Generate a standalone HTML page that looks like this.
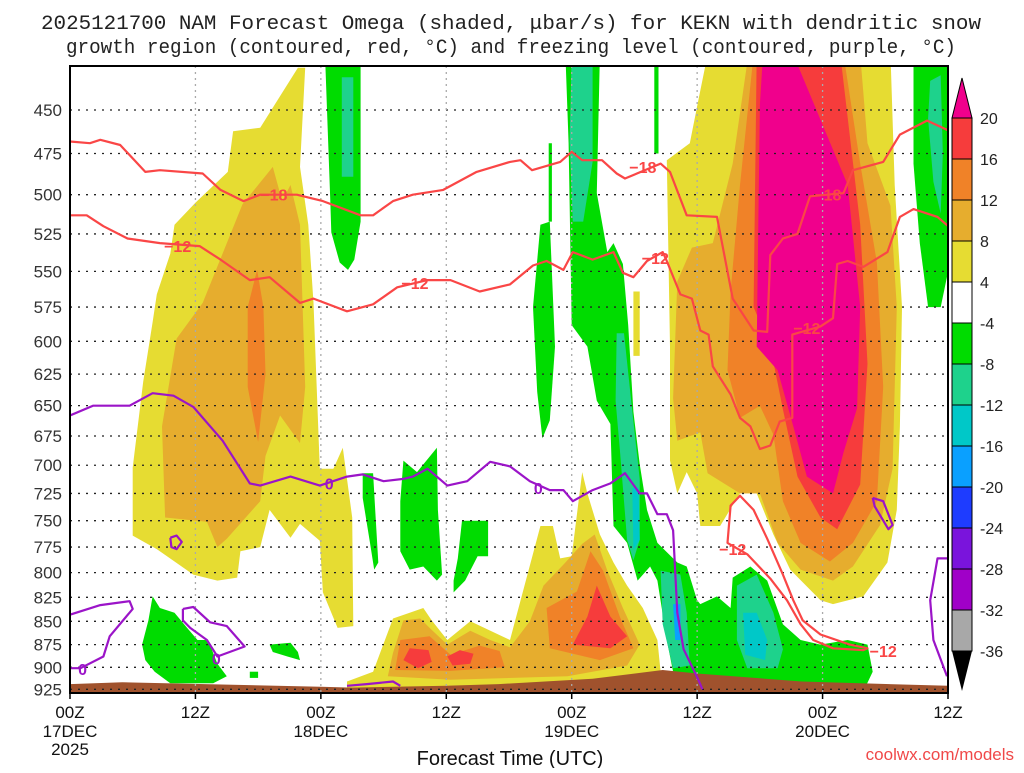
<!DOCTYPE html>
<html><head><meta charset="utf-8"><title>NAM Omega KEKN</title>
<style>
html,body{margin:0;padding:0;background:#fff;}
body{width:1024px;height:768px;overflow:hidden;position:relative;font-family:"Liberation Sans",sans-serif;}
svg text{font-family:"Liberation Sans",sans-serif;}
</style></head>
<body>
<svg id="chart" width="1024" height="768" viewBox="0 0 1024 768" xmlns="http://www.w3.org/2000/svg">
  <defs><clipPath id="plotclip"><rect x="70" y="66" width="878" height="627"/></clipPath></defs>
  <g fill="#222" font-size="20" text-anchor="middle" style="font-family:'Liberation Mono',monospace">
    <text x="511" y="29" textLength="940" lengthAdjust="spacingAndGlyphs" style="font-family:'Liberation Mono',monospace">2025121700 NAM Forecast Omega (shaded, μbar/s) for KEKN with dendritic snow</text>
    <text x="511" y="53" textLength="890" lengthAdjust="spacingAndGlyphs" style="font-family:'Liberation Mono',monospace">growth region (contoured, red, °C) and freezing level (contoured, purple, °C)</text>
  </g>
  <g id="fills" clip-path="url(#plotclip)"></g>
  <g id="grid"></g>
  <g id="contours" clip-path="url(#plotclip)"></g>
  <g id="axes"></g>
  <g id="cbar"></g>
  <text x="510" y="765" font-size="20" text-anchor="middle" fill="#111">Forecast Time (UTC)</text>
  <text x="1014" y="760" font-size="17" text-anchor="end" fill="#f04848">coolwx.com/models</text>
</svg>
<script>
// ---- axis ticks ----
const pressureTicks=[450,475,500,525,550,575,600,625,650,675,700,725,750,775,800,825,850,875,900,925];
const timeTicks=[0,12,24,36,48,60,72,84];
const timeLabels=["00Z","12Z","00Z","12Z","00Z","12Z","00Z","12Z"];
const dateLabels=["17DEC","","18DEC","","19DEC","","20DEC",""];
// ---- colorbar ----
const cbarLevels=["20","16","12","8","4","-4","-8","-12","-16","-20","-24","-28","-32","-36"];
const cbarColors=["#f63c3c","#f08228","#e6ad2e","#e6dc32","#ffffff","#00dc00","#1ed28c","#00c8c8","#0aa0ff","#1e3cff","#7a14dc","#a000c8","#a8a8a8"];
// ---- shading polygons [hour, hPa] ----
const yellowLeft=[[21.8,427],[18.2,460],[15.6,462],[15.1,486],[12.0,505],[10.0,519],[9.6,538],[8.3,566],[7.9,586],[7.0,631],[6.0,702],[6.0,764],[8.3,777],[11.8,802],[14.1,808],[16.0,805],[16.3,779],[18.2,775],[19.1,740],[21.1,766],[22.0,753],[23.9,769],[24.2,820],[25.6,857],[27.1,855],[27.0,747],[26.1,685],[25.2,703],[23.9,703],[23.3,572],[22.8,519],[22.0,483],[22.5,427]];
const orangeLeft=[[19.4,483],[16.5,506],[12.7,572],[10.2,598],[8.8,667],[9.1,747],[13.1,751],[14.1,775],[15.0,767],[18.2,732],[18.7,692],[20.1,658],[22.0,681],[22.5,635],[22.0,519],[21.1,494],[20.3,504]];
const darkOrangeLeft=[[17.9,549],[17.0,575],[17.0,635],[18.0,680],[18.7,625],[18.5,575]];
const yellowMid=[[26.5,916],[29.0,905],[30.9,847],[32.5,841],[33.8,836],[34.6,849],[36.1,870],[38.3,850],[42.1,870],[45.0,755],[46.2,755],[46.9,786],[48.0,784],[49.0,706],[49.5,725],[50.7,763],[52.0,790],[53.3,813],[54.8,836],[56.2,870],[56.5,905],[56.5,925],[26.5,925]];
const orangeMid=[[30.4,910],[30.9,884],[31.9,849],[33.5,847],[34.4,857],[36.1,875],[38.3,860],[40.2,870],[42.1,878],[44.0,850],[45.3,813],[47.4,790],[49.0,772],[50.2,763],[51.4,798],[52.9,836],[54.5,875],[53.3,898],[47.6,910],[36.4,914]];
const darkOrangeMidA=[[31.1,903],[31.6,870],[34.4,866],[36.4,886],[39.2,876],[41.1,882],[41.6,900],[36.4,904]];
const darkOrangeMidB=[[45.6,836],[48.5,819],[49.8,779],[51.0,798],[52.6,845],[53.9,879],[50.7,892],[45.9,879]];
const redMidA=[[31.9,892],[32.5,879],[34.3,881],[34.6,894],[33.3,901]];
const redMidB=[[36.1,888],[37.3,881],[38.6,885],[38.3,896],[36.6,898]];
const redMidC=[[48.1,875],[49.5,845],[50.4,813],[51.7,845],[53.3,866],[51.7,879]];
const yellowRight=[[61.0,420],[60.1,445],[59.3,469],[57.1,479],[57.4,604],[57.4,696],[58.1,725],[59.0,706],[60.0,725],[60.3,755],[62.2,755],[64.1,725],[65.7,725],[67.3,763],[68.9,797],[71.8,828],[73.0,832],[75.9,824],[78.2,790],[79.1,740],[79.4,667],[79.6,575],[78.9,494],[78.5,420]];
const orangeRight=[[64.9,420],[63.4,481],[61.5,531],[59.5,534],[58.1,557],[57.7,644],[58.1,679],[60.3,672],[61.0,707],[64.1,725],[66.0,725],[67.7,771],[69.9,797],[73.0,808],[74.9,794],[77.5,754],[78.7,703],[79.1,575],[78.5,507],[76.3,469],[75.6,420]];
const darkOrangeRight=[[65.4,420],[64.1,494],[63.2,564],[62.9,622],[64.1,660],[66.0,650],[67.3,674],[68.2,732],[69.9,771],[72.7,789],[74.9,771],[77.2,732],[77.8,635],[77.2,544],[75.6,481],[74.0,420]];
const redRight=[[65.7,420],[65.4,575],[67.0,604],[68.2,653],[69.6,710],[71.8,747],[73.4,758],[75.6,717],[76.3,617],[75.6,519],[73.7,420]];
const magentaRight=[[66.3,420],[66.0,447],[65.7,604],[67.7,622],[69.2,667],[70.5,710],[73.0,725],[74.0,689],[75.3,652],[75.6,575],[74.4,494],[69.2,420]];
const yellowStripe=[[53.9,564],[54.5,564],[54.5,611],[53.9,611]];
const greenTop=[[24.4,420],[27.8,420],[27.8,517],[27.2,542],[26.6,549],[25.8,544],[25.0,524],[24.9,504]];
const greenMidA=[[28.0,707],[29.0,707],[29.2,740],[29.5,790],[29.1,797],[28.7,771],[28.0,729]];
const greenMidB=[[31.9,696],[33.2,706],[35.1,685],[35.2,740],[35.6,802],[35.1,808],[33.8,794],[32.5,797],[31.6,779],[31.6,732]];
const greenMidC=[[37.5,750],[40.0,750],[40.0,784],[39.0,784],[37.8,808],[36.7,820],[36.7,808],[37.1,786]];
const greenLowLeft=[[7.9,824],[8.6,836],[10.0,841],[11.2,857],[12.2,870],[13.2,870],[14.1,896],[15.0,910],[13.7,918],[9.6,918],[8.1,905],[7.2,892],[6.9,875],[7.5,849]];
const greenSmallA=[[19.1,875],[21.1,873],[21.8,883],[22.0,892],[20.8,888],[19.4,883]];
const greenSmallB=[[17.2,905],[18.0,905],[18.0,912],[17.2,912]];
const greenBand=[[47.4,420],[47.7,469],[48.0,588],[49.5,604],[50.4,646],[51.7,665],[52.0,755],[53.3,771],[54.3,808],[55.5,794],[56.2,808],[57.1,870],[57.7,905],[58.7,925],[76.0,925],[76.8,905],[76.3,875],[74.4,870],[71.8,875],[69.9,870],[68.2,853],[66.7,808],[65.1,794],[63.4,805],[63.2,836],[61.9,824],[60.3,832],[60.0,828],[59.0,794],[58.1,790],[56.2,771],[55.2,740],[54.5,699],[53.9,655],[53.4,588],[52.9,545],[52.0,531],[51.4,537],[50.4,499],[50.7,420]];
const greenThin=[[45.0,519],[45.9,517],[46.4,604],[45.9,662],[45.2,677],[44.7,639],[44.3,575]];
const greenThinLine=[[45.8,469],[46.1,469],[46.1,517],[45.8,517]];
const greenThinTop=[[55.9,420],[56.3,420],[56.3,475],[55.9,475]];
const greenRight=[[80.7,420],[85,420],[85,517],[83.3,575],[82.1,575],[81.3,531],[80.7,481]];
const tealTop=[[26.0,432],[27.1,432],[27.1,489],[26.0,489]];
const tealBandTop=[[48.0,420],[50.0,420],[50.0,480],[49.1,517],[48.1,517],[47.8,468]];
const tealBandMid=[[52.3,594],[53.0,594],[53.9,663],[54.5,712],[54.5,768],[53.9,788],[53.3,768],[52.6,686],[52.2,646]];
const tealBandLow=[[56.5,798],[58.4,802],[59.0,841],[59.3,898],[57.7,901],[56.7,853]];
const tealLowRight=[[63.8,813],[65.7,802],[67.3,841],[68.2,880],[67.7,901],[64.8,901],[63.8,870]];
const tealRight=[[82.3,434],[83.3,431],[83.5,475],[83.3,512],[82.6,492],[82.1,455]];
const cyanBandMid=[[53.8,720],[54.4,720],[54.5,768],[53.9,778]];
const cyanLowRight=[[64.4,841],[65.7,841],[66.7,870],[66.5,892],[64.6,886]];
const blueBandLow=[[57.7,832],[58.4,832],[58.4,870],[57.9,870]];
// ---- terrain (surface pressure by hour) ----
const terrainHours=[0,5,24,27,36,41,50,56.7,60,70,84];
const terrainPres=[919,917,922,923,921,919,913,903,907,916,921];
// ---- contours [hour, hPa] ----
const minus18=[[0,468],[1.9,469],[2.9,467],[4.8,470],[7.2,486],[8.6,485],[12.7,487],[14.4,497],[16.6,504],[18.2,500],[21.7,500],[24.2,504],[27.8,513],[29.0,513],[30.9,504],[32.8,500],[35.7,497],[38.9,486],[42.1,480],[43.1,479],[44.2,485],[46.9,480],[48.0,474],[49.0,479],[50.9,479],[52.3,487],[53.1,490],[56.5,481],[57.4,486],[59.0,513],[61.9,514],[63.4,569],[65.4,592],[66.7,593],[67.0,539],[68.2,528],[69.6,525],[70.8,501],[74.0,499],[74.9,485],[77.8,480],[79.4,464],[82.0,456],[84.2,462]];
const minus12Upper=[[0,513],[1.6,513],[3.2,520],[5.5,528],[8.6,531],[12.4,533],[14.4,542],[17.2,556],[19.1,554],[22.0,572],[23.3,569],[26.5,578],[29.0,573],[31.3,561],[34.2,556],[36.4,556],[39.2,564],[42.1,559],[44.3,546],[45.6,543],[47.2,549],[48.1,537],[50.0,542],[52.0,537],[52.9,551],[53.9,554],[55.2,543],[56.7,537],[57.1,543],[58.4,566],[59.5,569],[60.3,592],[61.1,595],[61.5,619],[63.2,641],[64.1,660],[65.1,667],[66.0,686],[67.0,683],[67.9,663],[69.1,660],[69.1,595],[71.8,589],[73.0,583],[73.4,545],[74.4,543],[75.9,547],[78.2,537],[79.4,514],[80.7,509],[83.0,514],[84.2,521]];
const minus12Lower=[[62.9,771],[63.2,736],[64.1,727],[65.4,740],[66.7,767],[68.2,802],[69.2,828],[70.1,849],[71.8,864],[74.6,875],[76.3,879],[75.9,881],[73.0,879],[71.1,870],[69.9,853],[68.6,828],[67.0,806],[64.8,782]];
const zeroMain=[[0,658],[2.2,650],[5.7,650],[7.9,640],[9.9,642],[11.8,651],[14.6,679],[17.2,716],[18.2,718],[21.1,710],[23.9,718],[26.5,710],[28.0,708],[30.0,714],[31.9,712],[32.8,710],[34.2,703],[36.1,718],[38.0,714],[40.2,697],[42.1,701],[44.0,714],[45.9,722],[47.2,722],[48.1,732],[50.0,722],[51.7,716],[53.1,707],[54.5,725],[55.2,725],[56.2,744],[57.1,744],[57.7,759],[58.1,841],[58.7,880],[60.0,911],[60.5,925]];
const zeroLowLeft=[[0,843],[2.9,833],[5.7,829],[6.0,837],[3.8,866],[3.2,888],[1.0,901],[0,901]];
const zeroLoop12Z=[[10.8,837],[11.8,835],[13.4,851],[15.0,855],[16.7,877],[14.1,888],[13.1,870],[11.5,857],[10.8,849],[10.8,837]];
const zeroSmallLoop=[[9.6,766],[10.2,764],[10.7,770],[10.2,777],[9.7,775],[9.6,766]];
const zeroBottom=[[26.5,921],[28.4,919],[30.9,916],[31.6,921]];
const zeroRight=[[84.2,786],[83.0,786],[82.3,828],[82.6,870],[83.9,910]];
const zeroRightLoop=[[76.8,729],[77.8,732],[78.7,754],[78.3,758],[77.5,745],[77.0,737],[76.8,729]];
// ---- contour labels [hour, hPa, text] ----
const contourLabels=[[19.5,500,"-18"],[54.8,483,"-18"],[72.5,500,"-18"],[10.3,533,"-12"],[33.0,558,"-12"],[56.0,541,"-12"],[70.5,590,"-12"],[63.4,777,"-12"],[77.8,882,"-12"]];
const zeroLabels=[[24.8,716],[44.8,720],[14.0,890],[1.2,902]];

const NS="http://www.w3.org/2000/svg";
const X=h=>70+h*(878/84);
const Y=p=>110+804*Math.log(p/450);
function mk(tag,attrs,parent){const e=document.createElementNS(NS,tag);for(const k in attrs)e.setAttribute(k,attrs[k]);parent.appendChild(e);return e;}
const fills=document.getElementById('fills');
function poly(data,color,name){
  const e=mk('polygon',{points:data.map(d=>X(d[0]).toFixed(1)+','+Y(d[1]).toFixed(1)).join(' '),fill:color},fills);
  
  
}
poly(yellowLeft,"#e6dc32","omega-4-8-left");
poly(orangeLeft,"#e6ad2e","omega-8-12-left");
poly(darkOrangeLeft,"#f08228","omega-12-16-left");
poly(yellowMid,"#e6dc32","omega-4-8-mid");
poly(orangeMid,"#e6ad2e","omega-8-12-mid");
poly(darkOrangeMidA,"#f08228","omega-12-16-mid-a");
poly(darkOrangeMidB,"#f08228","omega-12-16-mid-b");
poly(redMidA,"#f63c3c","omega-16-20-mid-a");
poly(redMidB,"#f63c3c","omega-16-20-mid-b");
poly(redMidC,"#f63c3c","omega-16-20-mid-c");
poly(yellowRight,"#e6dc32","omega-4-8-right");
poly(orangeRight,"#e6ad2e","omega-8-12-right");
poly(darkOrangeRight,"#f08228","omega-12-16-right");
poly(redRight,"#f63c3c","omega-16-20-right");
poly(magentaRight,"#f0008c","omega-over-20-right");
poly(yellowStripe,"#e6dc32","omega-4-8-stripe");
poly(greenTop,"#00dc00","omega-neg4-top");
poly(greenMidA,"#00dc00","omega-neg4-mid-a");
poly(greenMidB,"#00dc00","omega-neg4-mid-b");
poly(greenMidC,"#00dc00","omega-neg4-mid-c");
poly(greenLowLeft,"#00dc00","omega-neg4-low-left");
poly(greenSmallA,"#00dc00","omega-neg4-small-a");
poly(greenSmallB,"#00dc00","omega-neg4-small-b");
poly(greenBand,"#00dc00","omega-neg4-band");
poly(greenThin,"#00dc00","omega-neg4-thin");
poly(greenThinLine,"#00dc00","omega-neg4-thin-line");
poly(greenThinTop,"#00dc00","omega-neg4-thin-top");
poly(greenRight,"#00dc00","omega-neg4-right");
poly(tealTop,"#1ed28c","omega-neg8-top");
poly(tealBandTop,"#1ed28c","omega-neg8-band-top");
poly(tealBandMid,"#1ed28c","omega-neg8-band-mid");
poly(tealBandLow,"#1ed28c","omega-neg8-band-low");
poly(tealLowRight,"#1ed28c","omega-neg8-low-right");
poly(tealRight,"#1ed28c","omega-neg8-right");
poly(cyanBandMid,"#00c8c8","omega-neg12-band-mid");
poly(cyanLowRight,"#00c8c8","omega-neg12-low-right");
poly(blueBandLow,"#0aa0ff","omega-neg16-band-low");
// terrain
{
  const pts=terrainHours.map((h,i)=>X(h).toFixed(1)+','+Y(terrainPres[i]).toFixed(1));
  pts.push(X(84)+','+700,X(0)+','+700);
  const t=mk('polygon',{points:pts.join(' '),fill:"#a0522d"},fills);
  
  
}
// grid
const grid=document.getElementById('grid');
pressureTicks.forEach(p=>{
  const l=mk('line',{x1:70,x2:948,y1:Y(p),y2:Y(p),stroke:"#222","stroke-width":1.3,"stroke-dasharray":"2 6"},grid);
  
  
});
timeTicks.slice(1,-1).forEach(h=>{
  const l=mk('line',{x1:X(h),x2:X(h),y1:66,y2:693,stroke:"#aaa","stroke-width":1.3,"stroke-dasharray":"2 4"},grid);
  
  
});
// contours
const cg=document.getElementById('contours');
function line(data,color,name,closed){
  const e=mk(closed?'polygon':'polyline',{points:data.map(d=>X(d[0]).toFixed(1)+','+Y(d[1]).toFixed(1)).join(' '),fill:"none",stroke:color,"stroke-width":2.2,"stroke-linejoin":"round"},cg);
  
  
}
const RED="#fa4646", PUR="#9b14c8";
line(minus18,RED,"contour-minus18");
line(minus12Upper,RED,"contour-minus12-upper");
line(minus12Lower,RED,"contour-minus12-lower",true);
line(zeroMain,PUR,"freezing-level-main");
line(zeroLowLeft,PUR,"freezing-level-low-left");
line(zeroLoop12Z,PUR,"freezing-level-loop");
line(zeroSmallLoop,PUR,"freezing-level-small-loop");
line(zeroBottom,PUR,"freezing-level-bottom");
line(zeroRight,PUR,"freezing-level-right");
line(zeroRightLoop,PUR,"freezing-level-right-loop");
contourLabels.forEach(c=>{
  const t=mk('text',{x:X(c[0]),y:Y(c[1])+6,"font-size":16,"font-weight":"bold","text-anchor":"middle",fill:RED},cg);
  t.textContent=c[2].replace('-','\u2212');
  
  
});
zeroLabels.forEach(c=>{
  const t=mk('text',{x:X(c[0]),y:Y(c[1])+6,"font-size":16,"font-weight":"bold","text-anchor":"middle",fill:PUR},cg);
  t.textContent="0";
  
  
});
// axes
const ax=document.getElementById('axes');
{
  const b=mk('rect',{x:70,y:66,width:878,height:627,fill:"none",stroke:"#000","stroke-width":2},ax);
  
  
}
pressureTicks.forEach(p=>{
  const t=mk('text',{x:62,y:Y(p)+6,"font-size":17,"text-anchor":"end",fill:"#333"},ax);
  t.textContent=p;
  
  
});
timeTicks.forEach((h,i)=>{
  const tk=mk('line',{x1:X(h),x2:X(h),y1:693,y2:699,stroke:"#000","stroke-width":1.5},ax);
  
  
  const t=mk('text',{x:X(h),y:718,"font-size":17,"text-anchor":"middle",fill:"#111"},ax);
  t.textContent=timeLabels[i];
  
  
  if(dateLabels[i]){
    const d=mk('text',{x:X(h),y:737,"font-size":17,"text-anchor":"middle",fill:"#111"},ax);
    d.textContent=dateLabels[i];
    
    
  }
});
{
  const y=mk('text',{x:X(0),y:755,"font-size":17,"text-anchor":"middle",fill:"#111"},ax);
  y.textContent="2025";
  
  
}
// colorbar
const cb=document.getElementById('cbar');
const cbX=952,cbW=20,cbTop=118,cbStep=41;
{
  const t=mk('polygon',{points:`${cbX},${cbTop} ${cbX+cbW},${cbTop} ${cbX+cbW/2},${cbTop-40}`,fill:"#f0008c",stroke:"#000","stroke-width":1},cb);
  
  
}
cbarColors.forEach((c,i)=>{
  const r=mk('rect',{x:cbX,y:cbTop+i*cbStep,width:cbW,height:cbStep,fill:c,stroke:"#000","stroke-width":1},cb);
  
  
});
{
  const yb=cbTop+cbarColors.length*cbStep;
  const t=mk('polygon',{points:`${cbX},${yb} ${cbX+cbW},${yb} ${cbX+cbW/2},${yb+40}`,fill:"#000"},cb);
  
  
}
cbarLevels.forEach((l,i)=>{
  const t=mk('text',{x:980,y:cbTop+i*cbStep+6,"font-size":16,fill:"#222"},cb);
  t.textContent=l;
  
  
});
</script>
</body></html>
